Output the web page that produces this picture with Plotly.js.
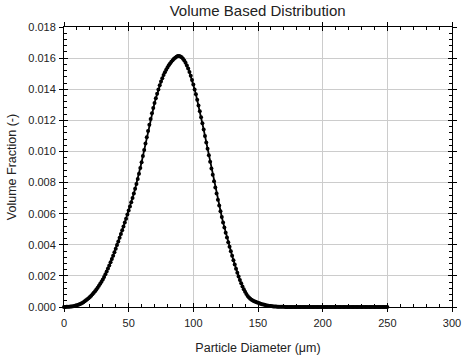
<!DOCTYPE html>
<html>
<head>
<meta charset="utf-8">
<script src="https://cdn.plot.ly/plotly-3.0.1.min.js"></script>
<style>html,body{margin:0;padding:0;background:#fff;}#chart{width:474px;height:357px;}</style>
</head>
<body>
<div id="chart"></div>
<script>
const diameter = [
  0,1,2,3,4,5,6,7,8,9,
  10,11,12,13,14,15,16,17,18,19,
  20,21,22,23,24,25,26,27,28,29,
  30,31,32,33,34,35,36,37,38,39,
  40,41,42,43,44,45,46,47,48,49,
  50,51,52,53,54,55,56,57,58,59,
  60,61,62,63,64,65,66,67,68,69,
  70,71,72,73,74,75,76,77,78,79,
  80,81,82,83,84,85,86,87,88,89,
  90,91,92,93,94,95,96,97,98,99,
  100,101,102,103,104,105,106,107,108,109,
  110,111,112,113,114,115,116,117,118,119,
  120,121,122,123,124,125,126,127,128,129,
  130,131,132,133,134,135,136,137,138,139,
  140,141,142,143,144,145,146,147,148,149,
  150,151,152,153,154,155,156,157,158,159,
  160,161,162,163,164,165,166,167,168,169,
  170,171,172,173,174,175,176,177,178,179,
  180,181,182,183,184,185,186,187,188,189,
  190,191,192,193,194,195,196,197,198,199,
  200,201,202,203,204,205,206,207,208,209,
  210,211,212,213,214,215,216,217,218,219,
  220,221,222,223,224,225,226,227,228,229,
  230,231,232,233,234,235,236,237,238,239,
  240,241,242,243,244,245,246,247,248,249,
  250
];
const volumeFraction = [
  0, 0, 0.00001, 0.00001, 0.00002, 0.00003, 0.00004, 0.00005, 0.00007, 0.00009,
  0.00011, 0.00014, 0.00017, 0.00021, 0.00026, 0.00031, 0.00037, 0.00043, 0.00050, 0.00057,
  0.00065, 0.00073, 0.00082, 0.00091, 0.00101, 0.00112, 0.00124, 0.00136, 0.00149, 0.00162,
  0.00177, 0.00193, 0.00210, 0.00228, 0.00247, 0.00267, 0.00287, 0.00308, 0.00330, 0.00352,
  0.00375, 0.00398, 0.00421, 0.00445, 0.00469, 0.00493, 0.00518, 0.00543, 0.00568, 0.00594,
  0.00620, 0.00646, 0.00673, 0.00701, 0.00730, 0.00760, 0.00791, 0.00823, 0.00857, 0.00893,
  0.00931, 0.00970, 0.01010, 0.01051, 0.01092, 0.01132, 0.01171, 0.01209, 0.01245, 0.01279,
  0.01311, 0.01342, 0.01371, 0.01399, 0.01425, 0.01449, 0.01471, 0.01491, 0.01509, 0.01525,
  0.01540, 0.01554, 0.01566, 0.01577, 0.01587, 0.01596, 0.01603, 0.01609, 0.01613, 0.01614,
  0.01611, 0.01605, 0.01596, 0.01584, 0.01570, 0.01553, 0.01533, 0.01511, 0.01486, 0.01459,
  0.01430, 0.01399, 0.01367, 0.01332, 0.01296, 0.01259, 0.01220, 0.01181, 0.01141, 0.01100,
  0.01058, 0.01017, 0.00975, 0.00933, 0.00891, 0.00850, 0.00809, 0.00769, 0.00729, 0.00690,
  0.00652, 0.00615, 0.00579, 0.00544, 0.00511, 0.00478, 0.00447, 0.00417, 0.00388, 0.00359,
  0.00330, 0.00301, 0.00273, 0.00246, 0.00220, 0.00196, 0.00173, 0.00152, 0.00132, 0.00114,
  0.00098, 0.00084, 0.00071, 0.00061, 0.00053, 0.00047, 0.00041, 0.00037, 0.00033, 0.00030,
  0.00027, 0.00024, 0.00021, 0.00018, 0.00016, 0.00014, 0.00012, 0.00010, 0.00008, 0.00007,
  0.00006, 0.00005, 0.00004, 0.00003, 0.00003, 0.00002, 0.00002, 0.00001, 0.00001, 0.00001,
  0.00001, 0, 0, 0, 0, 0, 0, 0, 0, 0,
  0, 0, 0, 0, 0, 0, 0, 0, 0, 0,
  0, 0, 0, 0, 0, 0, 0, 0, 0, 0,
  0, 0, 0, 0, 0, 0, 0, 0, 0, 0,
  0, 0, 0, 0, 0, 0, 0, 0, 0, 0,
  0, 0, 0, 0, 0, 0, 0, 0, 0, 0,
  0, 0, 0, 0, 0, 0, 0, 0, 0, 0,
  0, 0, 0, 0, 0, 0, 0, 0, 0, 0,
  0
];
const xTicks = [0, 50, 100, 150, 200, 250, 300];
const yTicks = [0, 0.002, 0.004, 0.006, 0.008, 0.010, 0.012, 0.014, 0.016, 0.018];
const yTickText = ["0.000","0.002","0.004","0.006","0.008","0.010","0.012","0.014","0.016","0.018"];

const FONT = 'Liberation Sans, Arial, sans-serif';
const xRange = [0, 300];
const yRange = [0, 0.018];

const trace = {
  x: diameter,
  y: volumeFraction,
  type: 'scatter',
  mode: 'lines+markers',
  line: {color: '#000', width: 1.8},
  marker: {color: '#000', size: 4, symbol: 'circle'},
  cliponaxis: false,
  showlegend: false,
  hoverinfo: 'skip'
};
// carrier for the outer half of the crossing major ticks (no data)
const tickCarrier = {x: [], y: [], xaxis: 'x2', yaxis: 'y2', type: 'scatter', mode: 'markers', showlegend: false, hoverinfo: 'skip'};

const layout = {
  width: 474, height: 357,
  margin: {l: 64, r: 21.5, t: 27, b: 50},
  paper_bgcolor: '#fff', plot_bgcolor: '#fff',
  font: {family: FONT, color: '#222', size: 11},
  title: {text: 'Volume Based Distribution', font: {family: FONT, size: 15, color: '#222'},
          x: 0.5435, xanchor: 'center', y: 0.97, yanchor: 'middle'},
  showlegend: false,
  xaxis: {
    range: xRange, fixedrange: true,
    tickmode: 'array', tickvals: xTicks, ticktext: xTicks.map(String),
    ticks: 'inside', ticklen: 4, tickwidth: 1, tickcolor: '#000',
    minor: {dtick: 10, ticks: 'inside', ticklen: 3, tickcolor: '#000', showgrid: false},
    showgrid: true, gridcolor: '#cccccc', gridwidth: 1,
    showline: true, linecolor: '#000', linewidth: 1, mirror: 'ticks',
    zeroline: false,
    ticklabelstandoff: 6,
    tickfont: {family: FONT, size: 11, color: '#222'},
    title: {text: 'Particle Diameter (\u03bcm)', font: {family: FONT, size: 12.5, color: '#222'}, standoff: 15},
    automargin: false
  },
  yaxis: {
    range: yRange, fixedrange: true,
    tickmode: 'array', tickvals: yTicks, ticktext: yTickText,
    ticks: 'inside', ticklen: 4, tickwidth: 1, tickcolor: '#000',
    minor: {dtick: 0.0004, ticks: 'inside', ticklen: 3, tickcolor: '#000', showgrid: false},
    showgrid: true, gridcolor: '#cccccc', gridwidth: 1,
    showline: true, linecolor: '#000', linewidth: 1, mirror: 'ticks',
    zeroline: false,
    ticklabelstandoff: 5,
    tickfont: {family: FONT, size: 11, color: '#222'},
    title: {text: 'Volume Fraction (-)', font: {family: FONT, size: 12.5, color: '#222'}, standoff: 8},
    automargin: false
  },
  xaxis2: {
    overlaying: 'x', anchor: 'y2', side: 'bottom', range: xRange, fixedrange: true,
    tickmode: 'array', tickvals: xTicks, showticklabels: false,
    ticks: 'outside', ticklen: 4, tickcolor: '#000', mirror: 'ticks',
    showgrid: false, zeroline: false, showline: false
  },
  yaxis2: {
    overlaying: 'y', anchor: 'x2', side: 'left', range: yRange, fixedrange: true,
    tickmode: 'array', tickvals: yTicks, showticklabels: false,
    ticks: 'outside', ticklen: 4, tickcolor: '#000', mirror: 'ticks',
    showgrid: false, zeroline: false, showline: false
  }
};

Plotly.newPlot('chart', [trace, tickCarrier], layout, {displayModeBar: false, staticPlot: true});
</script>
</body>
</html>
